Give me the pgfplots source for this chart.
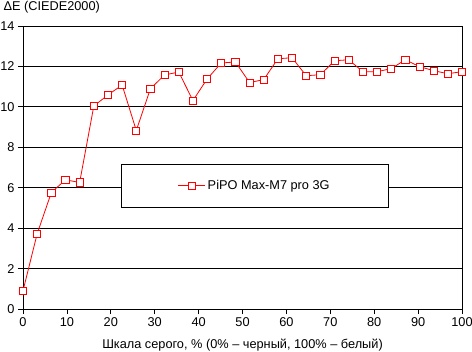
\documentclass[border=0pt]{standalone}
\usepackage{fontspec}
\setmainfont{Liberation Sans}
\usepackage{pgfplots}
\pgfplotsset{compat=1.18}
\definecolor{lred}{RGB}{255,0,0}
\begin{document}
\begin{tikzpicture}
\useasboundingbox (-23bp,-43bp) rectangle (449bp,309bp);
\begin{axis}[
  scale only axis,
  width=439bp, height=283bp,
  xmin=0, xmax=100, ymin=0, ymax=14,
  xtick={0,10,...,100}, ytick={0,2,...,14},
  tick align=outside, major tick length=5bp,
  xtick pos=bottom, ytick pos=left,
  tick style={black, line width=0.8bp},
  axis line style={black, line width=0.8bp},
  ymajorgrids, grid style={black, line width=0.8bp},
  font=\fontsize{12.8}{15}\selectfont,
  /pgf/number format/assume math mode=true,
  every axis x label/.style={at={(rel axis cs:0.5,0)}, anchor=base, yshift=-39bp},
  every axis y label/.style={at={(rel axis cs:0,1)}, anchor=base west, xshift=-23bp, yshift=15bp},
  xlabel={Шкала серого, \% (0\% – черный, 100\% – белый)},
  ylabel={ΔE (CIEDE2000)},
  legend style={at={(rel axis cs:0.528,0.436)}, anchor=center, draw=black, line width=0.8bp, fill=white, inner xsep=57bp, inner ysep=14bp, font=\fontsize{12.8}{15}\selectfont},
  legend image code/.code={\draw[mark repeat=2,mark phase=2,#1] plot coordinates {(0bp,0bp)(13.5bp,0bp)(27bp,0bp)};},
]
\addplot[lred, line width=0.8bp, mark=square*, mark size=3.6bp, mark options={fill=white, draw=lred, line width=0.8bp}] coordinates {
(0,0.9) (3.226,3.72) (6.452,5.76) (9.677,6.39) (12.903,6.26) (16.129,10.04)
(19.355,10.59) (22.581,11.08) (25.806,8.83) (29.032,10.9) (32.258,11.58)
(35.484,11.72) (38.710,10.31) (41.935,11.38) (45.161,12.17) (48.387,12.22)
(51.613,11.2) (54.839,11.35) (58.065,12.38) (61.290,12.43) (64.516,11.54)
(67.742,11.59) (70.968,12.28) (74.194,12.33) (77.419,11.74) (80.645,11.74)
(83.871,11.89) (87.097,12.33) (90.323,11.99) (93.548,11.79) (96.774,11.64) (100,11.74)
};
\addlegendentry{PiPO Max-M7 pro 3G}
\end{axis}
\end{tikzpicture}
\end{document}
